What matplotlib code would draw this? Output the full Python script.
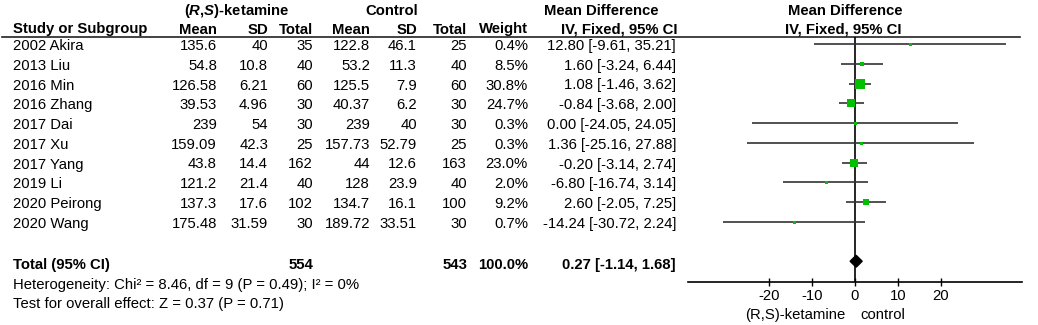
import matplotlib
matplotlib.use("Agg")
import matplotlib.pyplot as plt
from matplotlib.patches import Polygon
import numpy as np

plt.rcParams['font.family'] = ['Liberation Sans', 'DejaVu Sans']
plt.rcParams['mathtext.fontset'] = 'custom'
plt.rcParams['mathtext.it'] = 'Liberation Sans:italic:bold'
plt.rcParams['mathtext.rm'] = 'Liberation Sans:bold'

# ---------------- data ----------------
studies = ["2002 Akira", "2013 Liu", "2016 Min", "2016 Zhang", "2017 Dai",
           "2017 Xu", "2017 Yang", "2019 Li", "2020 Peirong", "2020 Wang"]
ket_mean = [135.6, 54.8, 126.58, 39.53, 239, 159.09, 43.8, 121.2, 137.3, 175.48]
ket_sd = [40, 10.8, 6.21, 4.96, 54, 42.3, 14.4, 21.4, 17.6, 31.59]
ket_n = [35, 40, 60, 30, 30, 25, 162, 40, 102, 30]
ctl_mean = [122.8, 53.2, 125.5, 40.37, 239, 157.73, 44, 128, 134.7, 189.72]
ctl_sd = [46.1, 11.3, 7.9, 6.2, 40, 52.79, 12.6, 23.9, 16.1, 33.51]
ctl_n = [25, 40, 60, 30, 30, 25, 163, 40, 100, 30]
weight = [0.4, 8.5, 30.8, 24.7, 0.3, 0.3, 23.0, 2.0, 9.2, 0.7]
md = [12.80, 1.60, 1.08, -0.84, 0.00, 1.36, -0.20, -6.80, 2.60, -14.24]
ci_lo = [-9.61, -3.24, -1.46, -3.68, -24.05, -25.16, -3.14, -16.74, -2.05, -30.72]
ci_hi = [35.21, 6.44, 3.62, 2.00, 24.05, 27.88, 2.74, 3.14, 7.25, 2.24]

total_ket_n = 554
total_ctl_n = 543
total_weight = 100.0
total_md = 0.27
total_lo = -1.14
total_hi = 1.68
heterogeneity = "Heterogeneity: Chi² = 8.46, df = 9 (P = 0.49); I² = 0%"
overall = "Test for overall effect: Z = 0.37 (P = 0.71)"
xticks = [-20, -10, 0, 10, 20]
favours = ["(R,S)-ketamine", "control"]

# ---------------- layout ----------------
W, H = 1038, 325
fig = plt.figure(figsize=(W / 100, H / 100), dpi=100)
ax = fig.add_axes([0, 0, 1, 1])
ax.set_xlim(0, W)
ax.set_ylim(H, 0)
ax.axis('off')

FS = 10.7
GREEN = '#00c000'
LINEC = '#333333'

row0_line = 44.0
row_dy = 19.75
text_off = 2.0

def ty(i):
    return row0_line + row_dy * i + text_off

# headers
ax.text(237, 11, r"($\mathit{R}$,$\mathit{S}$)-ketamine", fontsize=FS,
        fontweight='bold', ha='center', va='center')
ax.text(392, 11, "Control", fontsize=FS, fontweight='bold', ha='center', va='center')
ax.text(601, 11, "Mean Difference", fontsize=FS, fontweight='bold', ha='center', va='center')
ax.text(845, 11, "Mean Difference", fontsize=FS, fontweight='bold', ha='center', va='center')

hy = 29.5
cols_r = [217, 268, 313, 370, 417, 467, 528]
hdrs = ["Mean", "SD", "Total", "Mean", "SD", "Total", "Weight"]
ax.text(13, hy, "Study or Subgroup", fontsize=FS, fontweight='bold', ha='left', va='center')
for x, h in zip(cols_r, hdrs):
    ax.text(x, hy, h, fontsize=FS, fontweight='bold', ha='right', va='center')
ax.text(619, hy, "IV, Fixed, 95% CI", fontsize=FS, fontweight='bold', ha='center', va='center')
ax.text(843, hy, "IV, Fixed, 95% CI", fontsize=FS, fontweight='bold', ha='center', va='center')
ax.plot([2, 1020], [37, 37], color='#222222', lw=1.2)

def fmt(v):
    return f"{v:g}"

for i, s in enumerate(studies):
    y = ty(i)
    ax.text(13, y, s, fontsize=FS, ha='left', va='center')
    vals = [fmt(ket_mean[i]), fmt(ket_sd[i]), str(ket_n[i]),
            fmt(ctl_mean[i]), fmt(ctl_sd[i]), str(ctl_n[i]), f"{weight[i]:.1f}%"]
    for x, v in zip(cols_r, vals):
        ax.text(x, y, v, fontsize=FS, ha='right', va='center')
    ax.text(676, y, f"{md[i]:.2f} [{ci_lo[i]:.2f}, {ci_hi[i]:.2f}]",
            fontsize=FS, ha='right', va='center')

ytot = 265
ax.text(13, ytot, "Total (95% CI)", fontsize=FS, fontweight='bold', ha='left', va='center')
ax.text(313, ytot, str(total_ket_n), fontsize=FS, fontweight='bold', ha='right', va='center')
ax.text(467, ytot, str(total_ctl_n), fontsize=FS, fontweight='bold', ha='right', va='center')
ax.text(528, ytot, f"{total_weight:.1f}%", fontsize=FS, fontweight='bold', ha='right', va='center')
ax.text(676, ytot, f"{total_md:.2f} [{total_lo:.2f}, {total_hi:.2f}]", fontsize=FS,
        fontweight='bold', ha='right', va='center')
ax.text(13, 285, heterogeneity, fontsize=FS, ha='left', va='center')
ax.text(13, 304, overall, fontsize=FS, ha='left', va='center')

ax.text(795, 315, favours[0], fontsize=FS, ha='center', va='center')
ax.text(883, 315, favours[1], fontsize=FS, ha='center', va='center')

# ---------------- forest axes ----------------
fx0, fx1 = 688, 1022
fy_top, fy_bot = 37, 281.7
fax = fig.add_axes([fx0 / W, (H - fy_bot) / H, (fx1 - fx0) / W, (fy_bot - fy_top) / H])
fax.patch.set_alpha(0)
fax.set_xlim(-39, 39)
ytop_row = (fy_top - row0_line) / row_dy
ybot_row = (fy_bot - row0_line) / row_dy
fax.set_ylim(ybot_row, ytop_row)
for sp in ['top', 'left', 'right']:
    fax.spines[sp].set_visible(False)
fax.spines['bottom'].set_linewidth(1.2)
fax.set_yticks([])
fax.set_xticks(xticks)
fax.set_xticklabels([str(t) for t in xticks], fontsize=FS)
fax.tick_params(axis='x', direction='inout', length=6, width=1.0, pad=2)

fax.axvline(0, color='black', lw=1.2, zorder=1)
rows = np.arange(len(studies))
fax.hlines(rows, ci_lo, ci_hi, color=LINEC, lw=1.2, zorder=2)
sizes = [max(3.0, 1.65 * np.sqrt(w)) * 0.72 for w in weight]
for r, m, s in zip(rows, md, sizes):
    fax.plot([m], [r], marker='s', ms=s, color=GREEN, mec=GREEN, mew=0, zorder=3)

tot_row = 11
dh = 0.3
fax.add_patch(Polygon([[total_lo, tot_row], [total_md, tot_row - dh],
                       [total_hi, tot_row], [total_md, tot_row + dh]],
                      closed=True, color='black', zorder=3))

fig.savefig("out.png", dpi=100)
